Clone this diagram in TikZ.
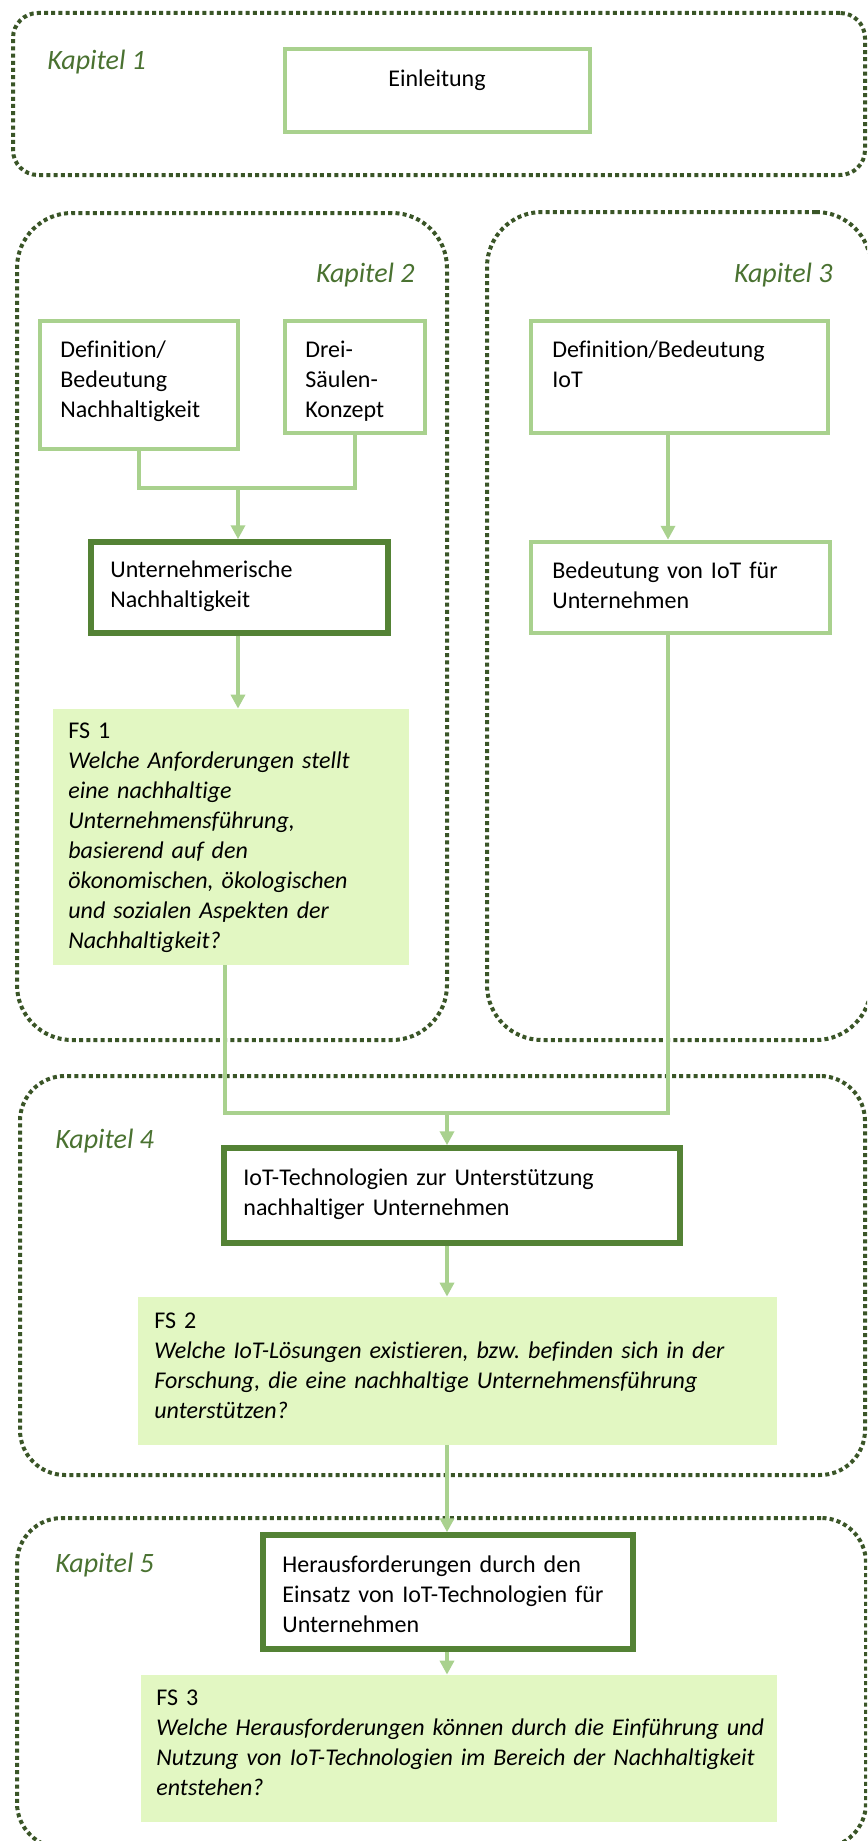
\documentclass[tikz,border=0pt]{standalone}
\usepackage{fontspec}
\setmainfont{Carlito}[Ligatures=NoCommon]
\usetikzlibrary{arrows.meta,fit}

\definecolor{lgreen}{HTML}{A9D18E}
\definecolor{dgreen}{HTML}{548235}
\definecolor{dotgreen}{HTML}{3A5527}
\definecolor{kgreen}{HTML}{4A7231}
\definecolor{fsfill}{HTML}{E2F7C2}

\begin{document}
\begin{tikzpicture}[x=0.5pt,y=-0.5pt,
    chap/.style={draw=dotgreen, line width=2pt, dash pattern=on 2pt off 1.6pt, inner sep=0pt},
    lbox/.style={draw=lgreen, line width=2.25pt, fill=white, inner sep=0pt},
    dbox/.style={draw=dgreen, line width=2.75pt, fill=white, inner sep=0pt},
    fsbox/.style={fill=fsfill, inner sep=0pt},
    txt/.style={anchor=base west, inner sep=0pt, text width=340pt, align=left,
        font=\fontsize{12pt}{15pt}\selectfont},
    kap/.style={inner sep=0pt, text=kgreen, font=\fontsize{14pt}{17pt}\selectfont\itshape},
    conn/.style={draw=lgreen, line width=2pt},
    arr/.style={conn, -{Triangle[length=7pt,width=7pt]}}]

    \useasboundingbox (0,0) rectangle (867,1841);
    \clip (0,0) rectangle (867,1841);

    % chapter frames
    \node[chap, rounded corners=12.5pt, fit={(13,13) (865,175)}] (kap1) {};
    \node[chap, rounded corners=27.5pt, fit={(17,213) (447,1040)}] (kap2) {};
    \node[chap, rounded corners=27.5pt, fit={(487,212) (871,1040)}] (kap3) {};
    \node[chap, rounded corners=22.5pt, fit={(20,1076) (865,1475)}] (kap4) {};
    \node[chap, rounded corners=22.5pt, fit={(17,1518) (866,1848)}] (kap5) {};

    \node[kap, anchor=base west] (k1) at (47,70) {Kapitel 1};
    \node[kap, anchor=base east] (k2) at (415,282) {Kapitel 2};
    \node[kap, anchor=base east] (k3) at (833,282) {Kapitel 3};
    \node[kap, anchor=base west] (k4) at (55,1148) {Kapitel 4};
    \node[kap, anchor=base west] (k5) at (55,1572) {Kapitel 5};

    % boxes
    \node[lbox, fit={(285,49) (590,132)}] (einl) {};
    \node[lbox, fit={(40,321) (238,449)}] (defn) {};
    \node[lbox, fit={(285,321) (425,433)}] (drei) {};
    \node[dbox, fit={(91,542) (388,633)}] (untn) {};
    \node[fsbox, fit={(53,709) (409,965)}] (fs1) {};
    \node[lbox, fit={(531,321) (828,433)}] (defiot) {};
    \node[lbox, fit={(531,542) (830,633)}] (bediot) {};
    \node[dbox, fit={(224,1148) (680,1243)}] (iottech) {};
    \node[fsbox, fit={(138,1297) (777,1445)}] (fs2) {};
    \node[dbox, fit={(263,1535) (633,1649)}] (hera) {};
    \node[fsbox, fit={(141,1675) (777,1822)}] (fs3) {};

    % texts
    \node[inner sep=0pt, anchor=base, font=\fontsize{12pt}{15pt}\selectfont] (einl-t) at (437,87) {Einleitung};
    \node[txt] (defn-t) at (60,357) {Definition/\\Bedeutung\\Nachhaltigkeit};
    \node[txt] (drei-t) at (305,357) {Drei-\\Säulen-\\Konzept};
    \node[txt] (untn-t) at (110,577) {Unternehmerische\\Nachhaltigkeit};
    \node[txt] (fs1-t) at (68,738) {FS 1\\\itshape Welche Anforderungen stellt\\eine nachhaltige\\Unternehmensführung,\\basierend auf den\\ökonomischen, ökologischen\\und sozialen Aspekten der\\Nachhaltigkeit?};
    \node[txt] (defiot-t) at (552,357) {Definition/Bedeutung\\IoT};
    \node[txt] (bediot-t) at (552,578) {Bedeutung von IoT für\\Unternehmen};
    \node[txt] (iottech-t) at (243,1185) {IoT-Technologien zur Unterstützung\\nachhaltiger Unternehmen};
    \node[txt] (fs2-t) at (154,1328) {FS 2\\\itshape Welche IoT-Lösungen existieren, bzw.\ befinden sich in der\\Forschung, die eine nachhaltige Unternehmensführung\\unterstützen?};
    \node[txt] (hera-t) at (282,1572) {Herausforderungen durch den\\Einsatz von IoT-Technologien für\\Unternehmen};
    \node[txt] (fs3-t) at (156,1705) {FS 3\\\itshape Welche Herausforderungen können durch die Einführung und\\Nutzung von IoT-Technologien im Bereich der Nachhaltigkeit\\entstehen?};

    % connectors
    \coordinate (jL) at (238,488);
    \coordinate (jF) at (225,1113);
    \coordinate (jM) at (447,1113);
    \coordinate (jR) at (668,1113);

    \draw[conn] (defn.south) |- (jL) -| (drei.south);
    \draw[arr] (jL) -- (untn.north -| jL);
    \draw[arr] (untn.south -| jL) -- (fs1.north -| jL);
    \draw[arr] (defiot.south -| jR) -- (bediot.north -| jR);
    \draw[conn] (fs1.south -| jF) -- (jF) -- (jR) -- (bediot.south -| jR);
    \draw[arr] (jM) -- (iottech.north -| jM);
    \draw[arr] (iottech.south -| jM) -- (fs2.north -| jM);
    \draw[arr] (fs2.south -| jM) -- (hera.north -| jM);
    \draw[arr] (hera.south -| jM) -- (fs3.north -| jM);
\end{tikzpicture}
\end{document}
